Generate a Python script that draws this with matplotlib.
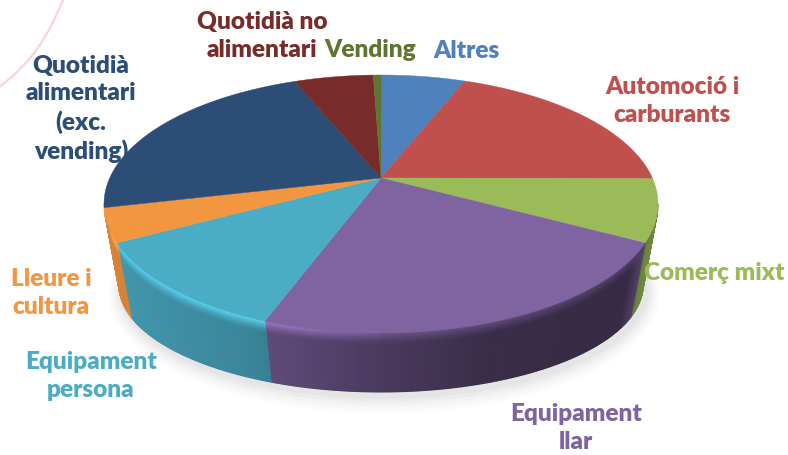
import numpy as np
import matplotlib
matplotlib.use("Agg")
import matplotlib.pyplot as plt
from matplotlib.patches import PathPatch, Ellipse, Polygon
from matplotlib.path import Path
from matplotlib.colors import to_rgb

categories = ["Altres", "Automoció i\ncarburants", "Comerç mixt", "Equipament\nllar",
              "Equipament\npersona", "Lleure i\ncultura", "Quotidià\nalimentari\n(exc.\nvending)",
              "Quotidià no\nalimentari", "Vending"]
shares = [5.9, 19.1, 7.8, 22.8, 11.5, 4.2, 22.5, 5.6, 0.6]
colors = ["#4F81BD", "#C0504D", "#9BBB59", "#8064A2", "#4BACC6", "#F39640", "#2C4D75", "#772C2A", "#5F7530"]
label_xy = [(466, 51), (672, 101), (714, 273), (576, 428), (91, 376), (51, 293), (81, 109), (262, 36), (370, 50)]

plt.rcParams['font.family'] = ['Lato', 'DejaVu Sans']
fig = plt.figure(figsize=(7.88, 4.55), dpi=100)
ax = fig.add_axes([0, 0, 1, 1])
ax.set_xlim(0, 788); ax.set_ylim(455, 0); ax.axis('off')

CX, CY, A, B = 381, 204, 277, 129
BX, BY, BA, BB = 381, 285, 262, 107
V0 = -0.2

def rim(phi):
    u, v = np.sin(phi), -np.cos(phi)
    d = 1 + v * V0
    return u * np.sqrt(1 - V0**2) / d, (v + V0) / d

def side_factor(u):
    return np.interp(u, [-1, -.5, 0, .4, .9, .97, 1], [.88, .78, .58, .45, .42, .72, .72])

for i, al in enumerate([.03, .03, .04, .05, .06]):
    ax.add_patch(Ellipse((BX + 3, BY + 9 - i), 2 * BA + 26 - 5 * i, 2 * BB + 24 - 5 * i,
                         fc='#808080', ec='none', alpha=al, zorder=1))

ax.add_patch(PathPatch(Path([(-2, 88), (35, 60), (48, 35), (64, -2)], [1, 4, 4, 4]),
                       fc='none', ec='#FBD3DF', lw=1.6, zorder=1))

edges = np.radians(np.concatenate([[0.2], 0.2 + np.cumsum(shares) * 3.6]))
depth = np.array([0, .04, .08, .12, .16, .2, .3, .5, .75, 1.0])
for i, col in enumerate(colors):
    base = np.array(to_rgb(col))
    phis = np.linspace(edges[i], edges[i + 1], max(3, int(np.degrees(edges[i + 1] - edges[i])) * 2))
    u, v = rim(phis)
    t = np.arctan2(v, u)
    t = np.where(t < -np.pi / 2, t + 2 * np.pi, t)
    t = t[(np.sin(t) > 0.04)]
    if len(t) < 2:
        continue
    if np.cos(t[-1]) < 0 and np.sin(t[-1]) < .1:
        t = np.r_[t, np.pi]
    if np.cos(t[0]) > 0 and np.sin(t[0]) < .1:
        t = np.r_[0, t]
    tt, ss = np.meshgrid(t, depth)
    x0, y0 = CX + A * np.cos(tt), CY + B * np.sin(tt)
    x1, y1 = BX + BA * np.cos(tt), BY + BB * np.sin(tt)
    X = x0 + (x1 - x0) * ss
    Y = y0 + (y1 - y0) * ss
    um = np.cos(tt)
    f = side_factor(um)
    bev = np.clip(1 - ss / .2, 0, 1)
    hi = np.where(um < 0, 1 + .24 * np.clip(-um * 2 + .1, 0, 1) - .5 * np.clip(um + .25, 0, 1),
                  .85 - .2 * um)
    fac = f + (hi - f) * bev ** 1.3
    C = np.clip(base[None, None, :] * fac[:, :, None], 0, 1)
    ax.pcolormesh(X, Y, C, shading='gouraud', zorder=2, rasterized=True)

for i, col in enumerate(colors):
    phis = np.linspace(edges[i], edges[i + 1], 60)
    u, v = rim(phis)
    x, y = CX + A * u, CY + B * v
    pts = np.column_stack([np.r_[CX, x], np.r_[178, y]])
    ax.add_patch(Polygon(pts, closed=True, fc=col, ec=col, lw=.3, zorder=3))

for name, col, (lx, ly) in zip(categories, colors, label_xy):
    ax.text(lx, ly, name, color=col, fontsize=17.6, fontweight='heavy', ha='center', va='center',
            linespacing=1.3, zorder=5)

fig.savefig("out.png", dpi=100)
